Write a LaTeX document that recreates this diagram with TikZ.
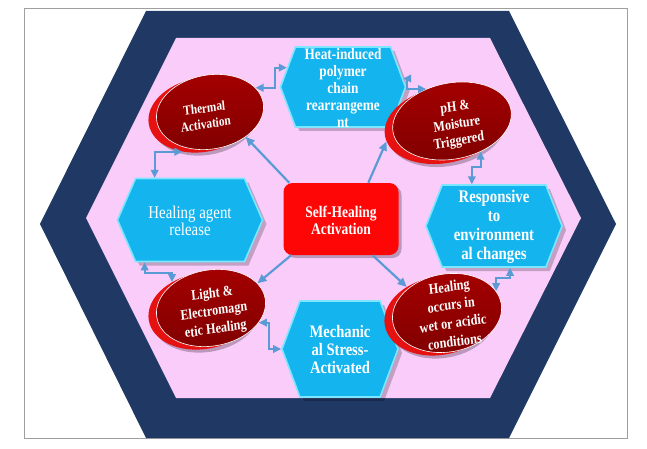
\documentclass[tikz,border=0pt]{standalone}
\usepackage{fontspec}
\setmainfont{Liberation Serif}
\usetikzlibrary{arrows.meta,shapes.geometric,shapes.symbols,shadows}

\definecolor{navyband}{RGB}{32,56,100}
\definecolor{pinkfield}{RGB}{250,204,250}
\definecolor{hexblue}{RGB}{20,180,238}
\definecolor{hexglow}{RGB}{125,230,255}
\definecolor{corered}{RGB}{255,6,6}
\definecolor{coinfront}{RGB}{165,0,0}
\definecolor{coindark}{RGB}{128,0,0}
\definecolor{coinback}{RGB}{230,18,18}
\definecolor{linkblue}{RGB}{91,155,213}

\tikzset{
hexa/.style={signal, signal to=east and west, signal pointer angle=#1, fill=hexblue, draw=hexglow, line width=1.6pt, inner sep=0pt,
  drop shadow={shadow xshift=4pt, shadow yshift=-4pt, opacity=0.22, fill=black}},
hexa/.default=138,
coinback/.style={ellipse, fill=coinback, inner sep=0pt,
  drop shadow={shadow xshift=3pt, shadow yshift=-3pt, opacity=0.25, fill=black}},
coin/.style={ellipse, top color=coinfront, bottom color=coindark, draw=white, line width=0.6pt, inner sep=0pt},
corebox/.style={rectangle, rounded corners=9pt, fill=corered, inner sep=0pt,
  drop shadow={shadow xshift=3pt, shadow yshift=-3pt, opacity=0.25, fill=black}},
lbl/.style={text=white, align=center, inner sep=0pt, yscale=1.2},
link/.style={-{Triangle[length=9pt,width=8pt]}, draw=linkblue, line width=2.2pt},
dlink/.style={{Triangle[length=8pt,width=7.5pt]}-{Triangle[length=8pt,width=7.5pt]}, draw=linkblue, line width=2pt}
}

\begin{document}
\begin{tikzpicture}[x=1pt,y=1pt,yscale=-1]
\useasboundingbox (0,0) rectangle (647,449);

%Frame
\draw[gray!75, line width=0.8pt] (24,8) rectangle (627,438);
%Shape: outer hexagon band
\fill[navyband] (146,11) -- (509,11) -- (616,224) -- (509,438) -- (146,438) -- (40,224) -- cycle;
%Shape: inner field
\fill[pinkfield] (176,38) -- (490,38) -- (581,218) -- (490,398) -- (176,398) -- (86,218) -- cycle;

%Central box
\node[corebox, minimum width=115, minimum height=72] (core) at (341,219) {};
% Text Node
\node[lbl, font=\bfseries\fontsize{13.5}{14.2}\selectfont] (coreT) at (341,220) {Self-Healing\\Activation};

%Hexagons
\node[hexa=139, minimum width=125, minimum height=80] (heat) at (343,87) {};
\node[hexa=133, minimum width=145, minimum height=83] (agent) at (190,220) {};
\node[hexa=137, minimum width=136, minimum height=82] (resp) at (494,226) {};
\node[hexa=139, minimum width=116, minimum height=96] (mech) at (340,349) {};
% Text Node
\node[lbl, font=\bfseries\fontsize{13.3}{14.2}\selectfont] (heatT) at (343,88) {Heat-induced\\polymer\\chain\\rearrangeme\\nt};
% Text Node
\node[lbl, font=\fontsize{14.9}{14.2}\selectfont] (agentT) at (190,221) {Healing agent\\release};
% Text Node
\node[lbl, font=\bfseries\fontsize{14.8}{15.8}\selectfont] (respT) at (494,227) {Responsive\\to\\environment\\al changes};
% Text Node
\node[lbl, font=\bfseries\fontsize{14.6}{15}\selectfont] (mechT) at (340,350) {Mechanic\\al Stress-\\Activated};

%Coins: back discs
\node[coinback, rotate=10, minimum width=108, minimum height=74] (thermB) at (202,115) {};
\node[coinback, rotate=11, minimum width=120, minimum height=76] (phB) at (444,125) {};
\node[coinback, rotate=10, minimum width=110, minimum height=76] (lightB) at (203,311) {};
\node[coinback, rotate=10, minimum width=110, minimum height=78] (wetB) at (439,316) {};
%Coins: front discs
\node[coin, rotate=10, minimum width=108, minimum height=74] (therm) at (210,112) {};
\node[coin, rotate=11, minimum width=120, minimum height=76] (ph) at (452,121) {};
\node[coin, rotate=10, minimum width=110, minimum height=76] (light) at (211,308) {};
\node[coin, rotate=10, minimum width=110, minimum height=78] (wet) at (447,313) {};
% Text Node
\node[lbl, rotate=7, font=\bfseries\fontsize{11.3}{13.3}\selectfont] (thermT) at (205,116) {Thermal\\Activation};
% Text Node
\node[lbl, rotate=8, font=\bfseries\fontsize{12.1}{14.2}\selectfont] (phT) at (457,125) {pH \&\\Moisture\\Triggered};
% Text Node
\node[lbl, rotate=7, font=\bfseries\fontsize{12.2}{15}\selectfont] (lightT) at (214,312) {Light \&\\Electromagn\\etic Healing};
% Text Node
\node[lbl, rotate=7, font=\bfseries\fontsize{12.3}{15.4}\selectfont] (wetT) at (452,314) {Healing\\occurs in\\wet or acidic\\conditions};

%Arrows from the centre
\draw[link] (core.145) -- (therm.-45);
\draw[link] (core.53) -- (phB.185);
\draw[link] (core.216) -- (light.18);
\draw[link] (core.-49) -- (wetB.128);
%Elbow connectors round the ring
\draw[dlink] (therm.18) -- ++(19,0) |- (heat.161);
\draw[dlink] (heat.8) -- ++(4,0) |- (ph.118);
\draw[dlink] (ph.-58) -- ++(0,15) -| (resp.118);
\draw[dlink] (resp.-69) -- ++(0,10) -| (wet.14);
\draw[dlink] (thermB.232) -| (agent.130);
\draw[dlink] (agent.223) -- ++(0,11) -| (lightB.127);
\draw[dlink] (light.-27) -- ++(10,0) |- (mech.180);

\end{tikzpicture}
\end{document}
